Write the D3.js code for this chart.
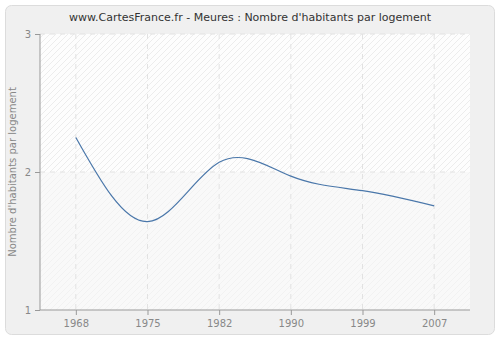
<!DOCTYPE html>
<html><head><meta charset="utf-8">
<script src="https://cdn.jsdelivr.net/npm/d3@7"></script>
<style>body{margin:0;background:#fff;}svg{display:block;font-family:"DejaVu Sans",sans-serif;}</style>
</head><body>
<svg id="c" width="500" height="340"></svg>
<script>
const years = ["1968","1975","1982","1990","1999","2007"];
const values = [2.25, 1.64, 2.07, 1.97, 1.865, 1.755];
const yTicks = [1, 2, 3];
const title = "www.CartesFrance.fr - Meures : Nombre d'habitants par logement";
const yLabel = "Nombre d'habitants par logement";

const svg = d3.select("#c");
const m = {l:40, r:470, t:34, b:310};
const defs = svg.append("defs");
const pat = defs.append("pattern").attr("id","hatch").attr("patternUnits","userSpaceOnUse")
  .attr("width",6).attr("height",6);
pat.append("rect").attr("width",6).attr("height",6).attr("fill","#fdfdfd");
pat.append("path").attr("d","M-1,1 l2,-2 M0,6 l6,-6 M5,7 l2,-2").attr("stroke","#ececec").attr("stroke-width",1);

svg.append("rect").attr("x",5.5).attr("y",5.5).attr("width",489).attr("height",329)
  .attr("rx",6).attr("fill","#f0f0f0").attr("stroke","#dcdcdc");

const x = d3.scalePoint().domain(years).range([m.l, m.r]).padding(0.5);
const y = d3.scaleLinear().domain([1,3]).range([m.b, m.t]);

svg.append("rect").attr("x",m.l).attr("y",m.t).attr("width",m.r-m.l).attr("height",m.b-m.t).attr("fill","url(#hatch)");
svg.append("rect").attr("x",m.l).attr("y",y(2)).attr("width",m.r-m.l).attr("height",m.b-y(2)).attr("fill","#f7f7f7").attr("opacity",0.6);

// grid
svg.append("g").selectAll("line").data(years).join("line")
  .attr("x1",d=>x(d)).attr("x2",d=>x(d)).attr("y1",m.t).attr("y2",m.b)
  .attr("stroke","#e2e2e2").attr("stroke-dasharray","5,5");
svg.append("g").selectAll("line").data(yTicks.filter(v=>v>1)).join("line")
  .attr("x1",m.l).attr("x2",m.r).attr("y1",d=>y(d)).attr("y2",d=>y(d))
  .attr("stroke","#e2e2e2").attr("stroke-dasharray","5,5");

// line
const line = d3.line().x((d,i)=>x(years[i])).y(d=>y(d)).curve(d3.curveNatural);
svg.append("path").datum(values).attr("d",line).attr("fill","none").attr("stroke","#4a77aa").attr("stroke-width",1.2);

// axes
const yAxis = d3.axisLeft(y).tickValues(yTicks).tickFormat(d3.format("d")).tickSize(5).tickPadding(4);
const gy = svg.append("g").attr("transform",`translate(${m.l},0)`).call(yAxis);
const xAxis = d3.axisBottom(x).tickSize(5).tickPadding(5);
const gx = svg.append("g").attr("transform",`translate(0,${m.b})`).call(xAxis);
[gx,gy].forEach(g=>{
  g.select(".domain").attr("stroke","#999").attr("d", g===gx ? `M${m.l},0H${m.r}` : `M0,${m.b}V${m.t}`);
  g.selectAll(".tick line").attr("stroke","#999");
  g.selectAll("text").attr("fill","#888").attr("font-size",10).attr("font-family","DejaVu Sans, sans-serif");
});

svg.append("text").attr("x",250).attr("y",21).attr("text-anchor","middle")
  .attr("font-size",11).attr("fill","#333").text(title);
svg.append("text").attr("transform","translate(16,172) rotate(-90)").attr("text-anchor","middle")
  .attr("font-size",10).attr("fill","#888").text(yLabel);
</script>
</body></html>
